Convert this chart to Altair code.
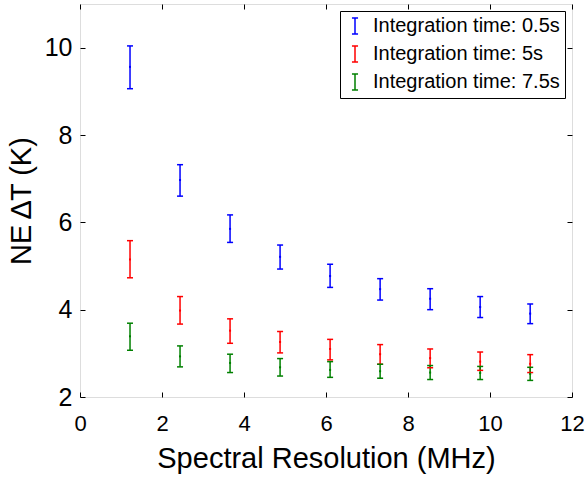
import altair as alt
import pandas as pd

resolution = [1.22, 2.44, 3.66, 4.88, 6.10, 7.32, 8.54, 9.76, 10.98]
series_names = ["Integration time: 0.5s", "Integration time: 5s", "Integration time: 7.5s"]
series_colors = ["#0000ff", "#ff0000", "#008000"]

center_05 = [9.56, 6.97, 5.85, 5.21, 4.77, 4.47, 4.25, 4.06, 3.91]
low_05 = [9.06, 6.60, 5.54, 4.93, 4.51, 4.22, 4.00, 3.82, 3.68]
high_05 = [10.04, 7.32, 6.17, 5.48, 5.04, 4.71, 4.48, 4.30, 4.13]

center_5 = [5.15, 3.98, 3.52, 3.26, 3.10, 2.98, 2.89, 2.81, 2.76]
low_5 = [4.73, 3.67, 3.23, 3.01, 2.85, 2.75, 2.67, 2.61, 2.56]
high_5 = [5.58, 4.30, 3.79, 3.50, 3.32, 3.20, 3.10, 3.03, 2.97]

center_75 = [3.39, 2.93, 2.78, 2.68, 2.62, 2.59, 2.56, 2.55, 2.53]
low_75 = [3.07, 2.69, 2.56, 2.48, 2.45, 2.43, 2.40, 2.40, 2.38]
high_75 = [3.69, 3.17, 2.98, 2.88, 2.81, 2.75, 2.72, 2.70, 2.68]

x_ticks = [0, 2, 4, 6, 8, 10, 12]
y_ticks = [2, 4, 6, 8, 10]

rows = []
for name, c, lo, hi in zip(series_names,
                           [center_05, center_5, center_75],
                           [low_05, low_5, low_75],
                           [high_05, high_5, high_75]):
    for xv, cv, lv, hv in zip(resolution, c, lo, hi):
        rows.append({"series": name, "x": xv, "c": cv, "lo": lv, "hi": hv})
df = pd.DataFrame(rows)

FONT = "Liberation Sans"
xscale = alt.Scale(domain=[0, 12], nice=False, zero=False)
yscale = alt.Scale(domain=[2, 11], nice=False, zero=False)
errbar_path = "M0,-1L0,1M-0.38,-1L0.38,-1M-0.38,1L0.38,1"

color = alt.Color(
    "series:N",
    scale=alt.Scale(domain=series_names, range=series_colors),
    legend=alt.Legend(
        title=None, orient="top-right", offset=7,
        symbolType=errbar_path, symbolSize=256, symbolStrokeWidth=1.5,
        labelFontSize=20, labelFont=FONT, labelColor="black", labelLimit=400,
        labelOffset=8, rowPadding=6, padding=5,
        strokeColor="black", fillColor="white",
    ),
)

base = alt.Chart(df)

main_axes = base.mark_rule(strokeWidth=1.5).encode(
    x=alt.X("x:Q", scale=xscale,
            axis=alt.Axis(orient="bottom", values=x_ticks, title="Spectral Resolution (MHz)",
                          grid=False, domain=False, tickSize=5, offset=-5, tickColor="black",
                          labelFontSize=22, labelFont=FONT, labelColor="black", labelPadding=16,
                          labelFlush=False, labelOverlap=False,
                          titleFontSize=29, titleFont=FONT, titleFontWeight="normal",
                          titleColor="black", titlePadding=10, format="d")),
    y=alt.Y("lo:Q", scale=yscale,
            axis=alt.Axis(orient="left", values=y_ticks, title="NE\u2009∆T (K)",
                          grid=False, domain=False, tickSize=5, offset=-5, tickColor="black",
                          labelFontSize=25, labelFont=FONT, labelColor="black", labelPadding=8,
                          labelFlush=False, labelOverlap=False,
                          titleFontSize=29, titleFont=FONT, titleFontWeight="normal",
                          titleColor="black", titlePadding=8, format="d")),
    y2="hi:Q",
    color=color,
)

cap_lo = base.mark_rule(strokeWidth=1.5, xOffset=-3, x2Offset=3).encode(
    x=alt.X("x:Q", scale=xscale, axis=None), x2="x:Q",
    y=alt.Y("lo:Q", scale=yscale, axis=None), color=color)
cap_hi = base.mark_rule(strokeWidth=1.5, xOffset=-3, x2Offset=3).encode(
    x=alt.X("x:Q", scale=xscale, axis=None), x2="x:Q",
    y=alt.Y("hi:Q", scale=yscale, axis=None), color=color)
mid = base.mark_rule(strokeWidth=2, xOffset=-1, x2Offset=1).encode(
    x=alt.X("x:Q", scale=xscale, axis=None), x2="x:Q",
    y=alt.Y("c:Q", scale=yscale, axis=None), color=color)

mirror_axes = base.mark_point(opacity=0).encode(
    x=alt.X("x:Q", scale=xscale,
            axis=alt.Axis(orient="top", values=x_ticks, title=None, labels=False, grid=False,
                          domain=False, tickSize=5, offset=-5, tickColor="black")),
    y=alt.Y("c:Q", scale=yscale,
            axis=alt.Axis(orient="right", values=y_ticks, title=None, labels=False, grid=False,
                          domain=False, tickSize=5, offset=-5, tickColor="black")),
)

chart = alt.layer(main_axes, cap_lo, cap_hi, mid, mirror_axes).resolve_axis(
    x="independent", y="independent"
).properties(
    width=492, height=393,
    autosize=alt.AutoSizeParams(type="none"),
    padding={"left": 80, "top": 4, "right": 15, "bottom": 80},
).configure_view(stroke="black", strokeWidth=1).configure(font=FONT)

chart.save("out.html", embed_options={"renderer": "svg", "actions": False})
